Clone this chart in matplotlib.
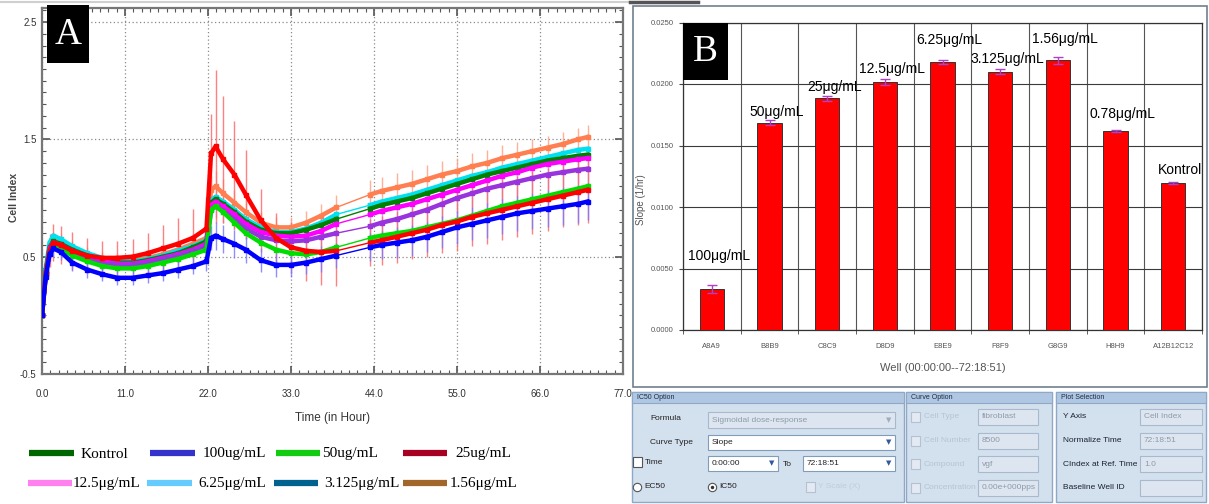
import numpy as np
import matplotlib.pyplot as plt
from matplotlib.lines import Line2D
from matplotlib.patches import Rectangle
from matplotlib.ticker import MultipleLocator

W, H = 1209, 504

# ---- panel A: cell index ----
hours = [0, 0.5, 1, 1.5, 2.5, 4, 6, 8, 10, 12, 14, 16, 18, 20, 21.8,
         22.4, 23, 24, 25.5, 27, 29, 31, 33, 35, 37, 39,
         43.5, 45, 47, 49, 51, 53, 55, 57, 59, 61, 63, 65, 67, 69, 71, 72.3]

ci_156 = [0.0, 0.36, 0.58, 0.64, 0.62, 0.57, 0.52, 0.48, 0.46, 0.47, 0.49, 0.52, 0.56, 0.61, 0.66,
          1.07, 1.10, 1.04, 0.96, 0.88, 0.79, 0.75, 0.75, 0.79, 0.85, 0.92,
          1.03, 1.06, 1.09, 1.12, 1.16, 1.20, 1.23, 1.27, 1.30, 1.34, 1.37, 1.40, 1.43, 1.46, 1.50, 1.52]
ci_625 = [0.0, 0.40, 0.62, 0.68, 0.65, 0.59, 0.53, 0.49, 0.46, 0.46, 0.48, 0.51, 0.55, 0.59, 0.64,
          0.98, 1.01, 0.97, 0.90, 0.82, 0.75, 0.71, 0.71, 0.74, 0.79, 0.86,
          0.94, 0.97, 1.00, 1.03, 1.07, 1.11, 1.15, 1.19, 1.22, 1.26, 1.29, 1.32, 1.35, 1.38, 1.41, 1.42]
ci_kontrol = [0.0, 0.38, 0.58, 0.63, 0.61, 0.56, 0.51, 0.47, 0.45, 0.45, 0.47, 0.50, 0.53, 0.58, 0.63,
              0.96, 0.99, 0.95, 0.88, 0.80, 0.73, 0.70, 0.70, 0.73, 0.77, 0.82,
              0.91, 0.94, 0.97, 1.00, 1.04, 1.08, 1.12, 1.16, 1.20, 1.23, 1.26, 1.29, 1.32, 1.34, 1.36, 1.37]
ci_125 = [0.0, 0.37, 0.57, 0.62, 0.60, 0.55, 0.50, 0.46, 0.44, 0.44, 0.46, 0.49, 0.52, 0.56, 0.61,
          0.94, 0.97, 0.93, 0.86, 0.78, 0.71, 0.68, 0.67, 0.68, 0.72, 0.78,
          0.86, 0.89, 0.92, 0.95, 0.99, 1.03, 1.07, 1.11, 1.15, 1.19, 1.22, 1.26, 1.29, 1.31, 1.33, 1.34]
ci_3125 = [0.0, 0.36, 0.55, 0.60, 0.58, 0.53, 0.48, 0.44, 0.43, 0.43, 0.45, 0.48, 0.51, 0.55, 0.59,
           0.90, 0.93, 0.89, 0.82, 0.74, 0.67, 0.64, 0.63, 0.64, 0.67, 0.70,
           0.76, 0.79, 0.82, 0.86, 0.90, 0.95, 1.00, 1.04, 1.08, 1.11, 1.14, 1.17, 1.20, 1.22, 1.24, 1.25]
ci_50 = [0.0, 0.36, 0.55, 0.59, 0.57, 0.51, 0.46, 0.42, 0.40, 0.40, 0.42, 0.45, 0.48, 0.52, 0.56,
         0.90, 0.93, 0.88, 0.79, 0.70, 0.62, 0.56, 0.53, 0.52, 0.54, 0.58,
         0.66, 0.68, 0.70, 0.72, 0.75, 0.78, 0.81, 0.85, 0.89, 0.93, 0.96, 0.99, 1.02, 1.05, 1.08, 1.10]
ci_25 = [0.0, 0.35, 0.55, 0.62, 0.60, 0.55, 0.51, 0.49, 0.49, 0.50, 0.53, 0.57, 0.61, 0.66, 0.74,
         1.38, 1.44, 1.33, 1.20, 1.03, 0.81, 0.66, 0.58, 0.55, 0.54, 0.55,
         0.62, 0.64, 0.67, 0.70, 0.73, 0.77, 0.80, 0.84, 0.87, 0.90, 0.93, 0.96, 0.99, 1.02, 1.05, 1.07]
ci_100 = [0.0, 0.33, 0.52, 0.57, 0.54, 0.45, 0.39, 0.35, 0.32, 0.32, 0.34, 0.36, 0.39, 0.42, 0.46,
          0.66, 0.68, 0.65, 0.61, 0.56, 0.47, 0.43, 0.43, 0.45, 0.48, 0.51,
          0.58, 0.60, 0.62, 0.64, 0.67, 0.71, 0.75, 0.78, 0.81, 0.84, 0.87, 0.89, 0.91, 0.93, 0.95, 0.97]

err_25 = [0.02, 0.08, 0.14, 0.16, 0.16, 0.16, 0.15, 0.14, 0.14, 0.15, 0.17, 0.20, 0.22, 0.25, 0.27,
          0.34, 0.65, 0.54, 0.46, 0.38, 0.27, 0.21, 0.22, 0.26, 0.28, 0.30,
          0.20, 0.21, 0.22, 0.22, 0.23, 0.24, 0.25, 0.25, 0.26, 0.26, 0.26, 0.27, 0.27, 0.27, 0.28, 0.28]
err_100 = [0.01, 0.04, 0.06, 0.07, 0.07, 0.07, 0.07, 0.06, 0.06, 0.06, 0.06, 0.07, 0.07, 0.07, 0.08,
           0.10, 0.12, 0.12, 0.12, 0.11, 0.10, 0.10, 0.10, 0.10, 0.11, 0.11,
           0.12, 0.12, 0.13, 0.13, 0.13, 0.14, 0.14, 0.14, 0.15, 0.15, 0.15, 0.15, 0.16, 0.16, 0.16, 0.16]
err_156 = [0.01, 0.04, 0.06, 0.07, 0.07, 0.06, 0.06, 0.06, 0.06, 0.06, 0.07, 0.07, 0.08, 0.08, 0.09,
           0.12, 0.13, 0.12, 0.11, 0.10, 0.09, 0.09, 0.09, 0.10, 0.10, 0.11,
           0.12, 0.12, 0.12, 0.12, 0.12, 0.12, 0.11, 0.11, 0.11, 0.11, 0.11, 0.10, 0.10, 0.10, 0.10, 0.10]
err_3125 = [0.01, 0.03, 0.05, 0.05, 0.05, 0.05, 0.05, 0.05, 0.05, 0.05, 0.05, 0.05, 0.06, 0.06, 0.06,
            0.09, 0.10, 0.10, 0.09, 0.09, 0.08, 0.08, 0.08, 0.09, 0.09, 0.10,
            0.11, 0.11, 0.11, 0.12, 0.12, 0.12, 0.12, 0.12, 0.13, 0.13, 0.13, 0.13, 0.13, 0.13, 0.13, 0.13]

legend_labels = ['Kontrol', '100ug/mL', '50ug/mL', '25ug/mL',
                 '12.5μg/mL', '6.25μg/mL', '3.125μg/mL', '1.56μg/mL']
legend_colors = ['#006600', '#3333cc', '#11cc11', '#a80022',
                 '#ff80ee', '#66ccff', '#00628f', '#a0662a']

# ---- panel B: slope per well ----
wells = ['A8A9', 'B8B9', 'C8C9', 'D8D9', 'E8E9', 'F8F9', 'G8G9', 'H8H9', 'A12B12C12']
doses = ['100μg/mL', '50μg/mL', '25μg/mL', '12.5μg/mL', '6.25μg/mL',
         '3.125μg/mL', '1.56μg/mL', '0.78μg/mL', 'Kontrol']
slopes = [0.00333, 0.01685, 0.01884, 0.02016, 0.02179, 0.02100, 0.02193, 0.01618, 0.01195]
slope_err = [0.00030, 0.00020, 0.00020, 0.00022, 0.00015, 0.00022, 0.00028, 0.00010, 0.00010]


def fx(px):
    return px / W


def fy(py):
    return 1 - py / H


def rect(fig, x0, y0, x1, y1, **kw):
    r = Rectangle((fx(x0), fy(y1)), (x1 - x0) / W, (y1 - y0) / H,
                  transform=fig.transFigure, **kw)
    fig.add_artist(r)


fig = plt.figure(figsize=(W / 100, H / 100), dpi=100)
sans = 'Liberation Sans'
serif = 'Liberation Serif'

# ================= Panel A =================
axA = fig.add_axes([fx(42), fy(374), 581 / W, 366 / H])
t = np.array(hours)
curves = [(ci_156, '#ff7f50', err_156, '#ffa485'),
          (ci_625, '#00e0f0', None, None),
          (ci_kontrol, '#008000', None, None),
          (ci_125, '#ff00ff', None, None),
          (ci_3125, '#9933dd', err_3125, '#bf99ee'),
          (ci_50, '#00dd00', None, None),
          (ci_25, '#ff0000', err_25, '#ff6a6a'),
          (ci_100, '#0000ff', err_100, '#7a7aff')]

# error bars first (behind the curves)
for y, c, e, ec in curves:
    if e is not None:
        axA.errorbar(t, y, yerr=e, fmt='none', ecolor=ec, elinewidth=1.0, alpha=0.85, zorder=2)

cut = 26  # gap in recording between 39 h and 43.5 h
for y, c, e, ec in curves:
    y = np.array(y)
    axA.plot(t[:cut], y[:cut], color=c, lw=3.2, marker='s', ms=2.5, zorder=3)
    axA.plot(t[cut:], y[cut:], color=c, lw=3.2, marker='s', ms=2.5, zorder=3)
    axA.plot(t[cut - 1:cut + 1], y[cut - 1:cut + 1], color=c, lw=1.0, zorder=3)

axA.set_xlim(0, 77)
axA.set_ylim(-0.5, 2.62)
axA.set_xticks(np.arange(0, 78, 11))
axA.set_xticklabels([f'{v:.1f}' for v in np.arange(0, 78, 11)])
axA.xaxis.set_minor_locator(MultipleLocator(1.1))
axA.set_yticks([-0.5, 0.5, 1.5, 2.5])
axA.set_yticklabels(['-0.5', '0.5', '1.5', '2.5'])
axA.yaxis.set_minor_locator(MultipleLocator(0.1))
axA.tick_params(which='both', direction='in', top=True, right=True, colors='#555555',
                labelcolor='#333333', labelsize=7)
axA.tick_params(which='major', length=6, width=1.2)
axA.tick_params(which='minor', length=3, width=0.8)
axA.tick_params(axis='x', pad=11)
axA.tick_params(axis='y', pad=4)
axA.grid(which='major', linestyle=(0, (1, 2)), color='#8a8a8a', lw=0.9)
for s in axA.spines.values():
    s.set_color('#777777')
    s.set_linewidth(1.6)
for lab in axA.get_xticklabels() + axA.get_yticklabels():
    lab.set_family(sans)

rect(fig, 47, 5, 89, 63, facecolor='black', edgecolor='none', zorder=5)
fig.text(fx(68), fy(35), 'A', color='white', fontsize=27, family=serif,
         ha='center', va='center', zorder=6)
fig.text(fx(14), fy(197), 'Cell Index', rotation=90, fontsize=7.5, color='#444444',
         weight='bold', family=sans, ha='center', va='center')
fig.text(fx(333), fy(418), 'Time (in Hour)', fontsize=8.5, color='#333333',
         family=sans, ha='center', va='center')
fig.add_artist(Line2D([0, fx(628)], [fy(2), fy(2)], color='#d0d0d0', lw=1.5,
                      transform=fig.transFigure))

# legend drawn by hand (irregular spacing in the original)
handle_x = [(29, 74), (150, 195), (276, 320), (403, 447),
            (28, 72), (147, 192), (274, 318), (403, 447)]
text_x = [81, 203, 322, 455, 73, 198, 324, 450]
row_y = [453, 483]
for i, (lab, col) in enumerate(zip(legend_labels, legend_colors)):
    yy = row_y[i // 4]
    x0, x1 = handle_x[i]
    fig.add_artist(Line2D([fx(x0), fx(x1)], [fy(yy), fy(yy)], color=col, lw=4.5,
                          solid_capstyle='butt', transform=fig.transFigure))
    fig.text(fx(text_x[i]), fy(yy + 1), lab, fontsize=11, family=serif,
             ha='left', va='center', color='black')

# ================= Panel B =================
rect(fig, 633, 6, 1207, 387, facecolor='white', edgecolor='#6f8090', lw=1.2, zorder=0)
fig.add_artist(Line2D([fx(630), fx(698)], [fy(2), fy(2)], color='#555555', lw=2.5,
                      transform=fig.transFigure))

axB = fig.add_axes([fx(683), fy(330), 519 / W, 307.5 / H])
pos = np.arange(len(wells))
axB.bar(pos, slopes, width=0.42, color='#ff0000', edgecolor='#333333', lw=0.7, zorder=3)
axB.errorbar(pos, slopes, yerr=slope_err, fmt='none', ecolor='#b040c8', elinewidth=1,
             capsize=3.5, capthick=1, zorder=4)
axB.set_xlim(-0.5, 8.5)
axB.set_ylim(0, 0.025)
axB.set_yticks(np.arange(0, 0.0251, 0.005))
axB.set_yticklabels([f'{v:.4f}' for v in np.arange(0, 0.0251, 0.005)])
axB.set_xticks(pos)
axB.set_xticklabels(wells)
axB.set_xticks(np.arange(-0.5, 9, 1), minor=True)
axB.tick_params(axis='x', which='major', length=0, pad=9, labelsize=5.5, labelcolor='#555555')
axB.tick_params(axis='x', which='minor', length=3, color='#444444')
axB.tick_params(axis='y', length=3, labelsize=5.5, labelcolor='#555555', color='#444444')
axB.grid(axis='y', which='major', color='#3a3a3a', lw=0.8, zorder=1)
axB.grid(axis='x', which='minor', color='#555555', lw=0.8, zorder=1)
for s in axB.spines.values():
    s.set_color('#333333')
    s.set_linewidth(0.9)
for lab in axB.get_xticklabels() + axB.get_yticklabels():
    lab.set_family(sans)

label_dy = [19, 3, 3, 4, 11, 4, 10, 7, 4]
for i, (d, v) in enumerate(zip(doses, slopes)):
    axB.annotate(d, (pos[i], v), xytext=(5, label_dy[i]), textcoords='offset points',
                 ha='center', va='bottom', fontsize=10, family=sans, color='black', zorder=6)

rect(fig, 683, 23, 728, 80, facecolor='black', edgecolor='none', zorder=5)
fig.text(fx(705.5), fy(52), 'B', color='white', fontsize=27, family=serif,
         ha='center', va='center', zorder=6)
fig.text(fx(641), fy(200), 'Slope (1/hr)', rotation=90, fontsize=7, color='#555555',
         family=sans, ha='center', va='center')
fig.text(fx(943), fy(368), 'Well (00:00:00--72:18:51)', fontsize=8, color='#555555',
         family=sans, ha='center', va='center')

# ================= option panels under B =================
box_face, head_face, box_edge = '#d3e0ee', '#afc7e2', '#8ea8c6'
for (x0, x1, title) in [(632, 904, 'IC50 Option'), (906, 1052, 'Curve Option'),
                        (1056, 1206, 'Plot Selection')]:
    rect(fig, x0, 392, x1, 502, facecolor=box_face, edgecolor=box_edge, lw=1)
    rect(fig, x0, 392, x1, 403, facecolor=head_face, edgecolor=box_edge, lw=0.8)
    fig.text(fx(x0 + 5), fy(397.5), title, fontsize=5, color='#1b2b46', family=sans,
             ha='left', va='center')

wfs = 6


def field(x0, y0, x1, y1, text, enabled=True, arrow=None):
    rect(fig, x0, y0, x1, y1, facecolor='white' if enabled else '#dde6f0',
         edgecolor='#7f9db9' if enabled else '#a9b9cc', lw=0.8)
    fig.text(fx(x0 + 4), fy((y0 + y1) / 2), text, fontsize=wfs, family=sans,
             color='#222222' if enabled else '#8d9aab', ha='left', va='center')
    if arrow:
        fig.text(fx(x1 - 6), fy((y0 + y1) / 2), '▼', fontsize=5, color=arrow,
                 ha='center', va='center')


def checkbox(x, y, enabled=True):
    rect(fig, x, y - 5, x + 9, y + 5, facecolor='white' if enabled else '#e3eaf3',
         edgecolor='#555555' if enabled else '#b3c1d1', lw=0.8)


# IC50 option
fig.text(fx(650), fy(418), 'Formula', fontsize=wfs, family=sans, color='#222222', va='center')
field(708, 412, 895, 428, 'Sigmoidal dose-response', enabled=False, arrow='#a0acbc')
fig.text(fx(650), fy(442), 'Curve Type', fontsize=wfs, family=sans, color='#222222', va='center')
field(708, 435, 895, 450, 'Slope', arrow='#2f5aa0')
checkbox(633, 462)
fig.text(fx(645), fy(462), 'Time', fontsize=wfs, family=sans, color='#222222', va='center')
field(708, 456, 778, 471, '0:00:00', arrow='#2f5aa0')
fig.text(fx(783), fy(464), 'To', fontsize=wfs, family=sans, color='#222222', va='center')
field(803, 456, 895, 471, '72:18:51', arrow='#2f5aa0')
fig.add_artist(Line2D([fx(637)], [fy(487)], marker='o', ms=6, mfc='white', mec='#555555',
                      mew=0.8, transform=fig.transFigure))
fig.text(fx(644), fy(487), 'EC50', fontsize=wfs, family=sans, color='#222222', va='center')
fig.add_artist(Line2D([fx(712)], [fy(487)], marker='o', ms=6, mfc='white', mec='#555555',
                      mew=0.8, transform=fig.transFigure))
fig.add_artist(Line2D([fx(712)], [fy(487)], marker='o', ms=2.5, mfc='#333333', mec='none',
                      transform=fig.transFigure))
fig.text(fx(719), fy(487), 'IC50', fontsize=wfs, family=sans, color='#222222', va='center')
checkbox(806, 487, enabled=False)
fig.text(fx(818), fy(487), 'Y Scale (X)', fontsize=wfs, family=sans, color='#c3ccd7', va='center')

# curve option
curve_opts = ['Cell Type', 'Cell Number', 'Compound', 'Concentration']
curve_vals = ['fibroblast', '8500', 'vgf', '0.00e+000pps']
for k, (lab, val) in enumerate(zip(curve_opts, curve_vals)):
    yy = 417 + k * 23.5
    checkbox(911, yy, enabled=False)
    fig.text(fx(924), fy(yy), lab, fontsize=wfs, family=sans, color='#b7c3d1', va='center')
    field(978, yy - 8, 1038, yy + 8, val, enabled=False)

# plot selection
plot_opts = ['Y Axis', 'Normalize Time', 'CIndex at Ref. Time', 'Baseline Well ID']
plot_vals = ['Cell Index', '72:18:51', '1.0', '']
for k, (lab, val) in enumerate(zip(plot_opts, plot_vals)):
    yy = 417 + k * 23.5
    fig.text(fx(1063), fy(yy), lab, fontsize=wfs, family=sans, color='#1b2233', va='center')
    field(1140, yy - 8, 1202, yy + 8, val, enabled=False)

fig.savefig('out.png', dpi=100)
